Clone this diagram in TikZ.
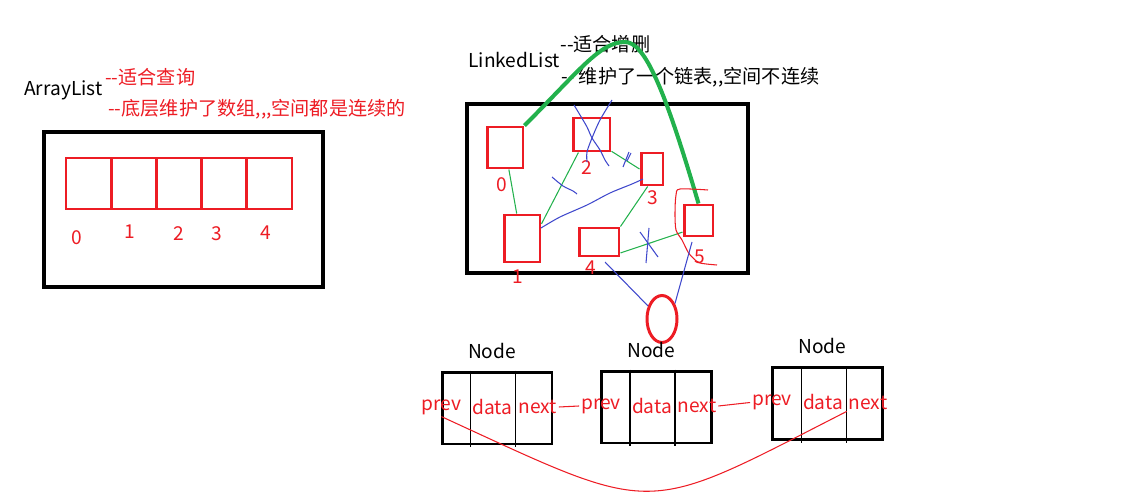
\documentclass[tikz,border=0pt]{standalone}
\usepackage{fontspec}
\newfontfamily\cjkfont{Noto Sans CJK SC}
\usetikzlibrary{calc,shapes.geometric}
\definecolor{paintred}{HTML}{ED1C24}
\definecolor{paintgreen}{HTML}{22B14C}
\definecolor{paintblue}{HTML}{3F48CC}
\begin{document}
\begin{tikzpicture}[x=0.02cm,y=-0.02cm,font=\cjkfont\fontsize{10.9}{12}\selectfont,
 outerbox/.style={draw=black,line width=2.3pt,inner sep=0pt},
 cell/.style={draw=paintred,line width=1.7pt,inner sep=0pt},
 idx/.style={text=paintred,inner sep=1pt},
 heading/.style={anchor=west,inner sep=0pt},
 note/.style={heading,text=paintred},
 nodebox/.style={draw=black,line width=1.7pt,minimum width=2.2cm,minimum height=1.44cm,inner sep=0pt},
 fld/.style={text=paintred,inner sep=1pt},
 link/.style={draw=paintgreen,line width=0.6pt},
 hop/.style={draw=paintgreen,line width=2.3pt},
 scribble/.style={draw=paintblue,line width=0.6pt},
 redline/.style={draw=paintred,line width=0.6pt}]
\useasboundingbox (0,0) rectangle (1146,503);
% ArrayList
\node[heading] (al) at (24,90) {ArrayList};
\node[note] (alq) at (105,77) {--适合查询};
\node[note] (ald) at (108,109) {--底层维护了数组,,,空间都是连续的};
\node[outerbox,minimum width=5.58cm,minimum height=3.1cm] (arr) at (183.5,209.5) {};
\foreach \i in {0,...,4}
 \node[cell,minimum width=0.904cm,minimum height=1.02cm] (c\i) at (88.6+45.2*\i,183.5) {};
\foreach \i/\x/\y in {0/77/238,1/130/232,2/179/234,3/217/234,4/266/233}
 \node[idx] (i\i) at (\x,\y) {\i};
% LinkedList
\node[heading] (ll) at (468,60) {LinkedList};
\node[heading] (llq) at (560,44) {--适合增删};
\node[heading] (lld) at (561,77) {-- 维护了一个链表,,空间不连续};
\node[outerbox,minimum width=5.62cm,minimum height=3.38cm] (lst) at (607.5,188.5) {};
\foreach \n/\x/\y/\w/\h in {0/505/147.5/0.72/0.82,1/522/238.5/0.72/0.94,2/591.5/134.5/0.74/0.66,
 3/652/169/0.44/0.64,4/599/242/0.8/0.56,5/698.5/220.5/0.58/0.62}
 \node[cell,minimum width=\w cm,minimum height=\h cm] (b\n) at (\x,\y) {};
\foreach \n/\x/\y in {0/502/185,1/518/277,2/587/168,3/653/198,4/591/268,5/700/257}
 \node[idx] (j\n) at (\x,\y) {\n};
\coordinate (top) at (625,42);
\draw[hop] (b0.north east) .. controls (580,70) and (600,42) .. (top)
 .. controls (645,42) and (665,90) .. (b5.north);
\draw[link] (b0.-80) -- (b1.102);
\draw[link] (b1.37) -- (b2.234);
\draw[link] (b2.-40) -- (b3.west);
\draw[link] (b3.256) -- (b4.north east);
\draw[link] (b4.-27) -- (b5.216);
% crossings
\draw[scribble] plot[smooth] coordinates {(574,105) (580,115) (587,127) (592,138) (600,150) (605,160) (609,166)};
\draw[scribble] plot[smooth] coordinates {(612,100) (600,120) (592,138) (587,152) (587,162)};
\draw[scribble] (629,152) -- (623,167);
\draw[scribble] (631,153) -- (627,161);
\draw[scribble] plot[smooth] coordinates {(552,177) (563,186) (573,191) (577,194)};
\draw[scribble] plot[smooth] coordinates {(541,228) (560,217) (587,205) (610,193) (632,184) (643,179)};
\draw[scribble] (640,232) -- (658,257);
\draw[scribble] (649,228) -- (646,263);
\draw[redline] plot[smooth] coordinates {(708,190) (680,189) (676,195) (675,213) (676,230) (682,240)
 (688,252) (693,258) (700,263) (717,265)};
\node[ellipse,draw=paintred,line width=1.7pt,minimum width=0.6cm,minimum height=0.94cm,inner sep=0pt] (ov) at (662,319) {};
\coordinate (u4) at (605,262);
\coordinate (u5) at (692,242);
\draw[scribble] (u4) -- (ov.137);
\draw[scribble] (u5) -- (ov.50);
% Node chain
\foreach \k/\x/\y in {1/497/408,2/656.5/407,3/827.5/403.5}{
 \node[nodebox] (n\k) at (\x,\y) {};
 \draw[line width=0.6pt] ($(n\k.north west)+(30,0)$) -- ($(n\k.south west)+(30,2)$);
 \draw[line width=0.6pt] ($(n\k.north west)+(75,0)$) -- ($(n\k.south west)+(75,2)$);
 \node (t\k) at ($(n\k.north)+(-5,-20)$) {Node};
}
\foreach \k in {1,2,3}{
 \node[fld] (p\k) at ($(n\k.west)+(1,-1)$) {prev};
 \node[fld] (d\k) at ($(n\k.west)+(52,-1)$) {data};
 \node[fld] (x\k) at ($(n\k.west)+(97,-1)$) {next};
}
\draw[redline] (x1.east) -- (p2.west);
\draw[redline] (x2.east) -- (p3.west);
\draw[redline] (p1.south) .. controls (660,517) and (640,517) .. (x3.south west);
\end{tikzpicture}
\end{document}
